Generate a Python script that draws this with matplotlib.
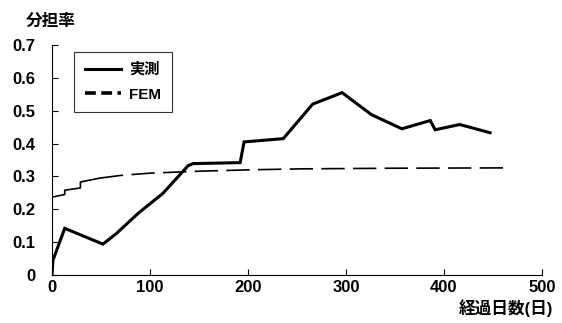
import matplotlib
matplotlib.use("Agg")
import matplotlib.pyplot as plt
from matplotlib.lines import Line2D

plt.rcParams['font.family'] = ['Liberation Sans', 'Noto Sans CJK JP', 'DejaVu Sans']
plt.rcParams['font.weight'] = 'bold'

meas_days = [0, 1, 13, 52, 66, 88, 113, 139, 144, 192, 196, 236, 266, 296, 326, 357, 386, 391, 416, 447]
meas_vals = [0.0, 0.045, 0.142, 0.094, 0.127, 0.188, 0.248, 0.333, 0.339, 0.342, 0.405, 0.415, 0.52, 0.555, 0.488, 0.445, 0.47, 0.442, 0.458, 0.433]

fem_days = [0, 13, 13, 29, 29, 49, 70, 100, 151, 200, 253, 350, 462]
fem_vals = [0.237, 0.245, 0.258, 0.265, 0.283, 0.295, 0.303, 0.31, 0.316, 0.32, 0.323, 0.325, 0.326]

xticks = [0, 100, 200, 300, 400, 500]
yticks = [0, 0.1, 0.2, 0.3, 0.4, 0.5, 0.6, 0.7]
ytick_labels = ['0', '0.1', '0.2', '0.3', '0.4', '0.5', '0.6', '0.7']

fig = plt.figure(figsize=(5.62, 3.23), dpi=100)
ax = fig.add_axes([0.0925, 0.1486, 0.8719, 0.7121])

ax.plot(meas_days, meas_vals, color='black', lw=2.2, solid_joinstyle='miter')
# early stepped part of FEM curve drawn as a thin continuous line, the rest dashed
ax.plot(fem_days[:6], fem_vals[:6], color='black', lw=1.2)
ax.plot(fem_days[5:], fem_vals[5:], color='black', lw=1.2, ls=(0, (14, 5)))

ax.set_xlim(0, 500)
ax.set_ylim(0, 0.7)
ax.set_xticks(xticks)
ax.set_yticks(yticks)
ax.set_yticklabels(ytick_labels)
ax.spines['top'].set_visible(False)
ax.spines['right'].set_visible(False)
ax.tick_params(direction='in', length=4, labelsize=12, width=0.8)
ax.tick_params(axis='y', pad=12)
for lab in ax.get_xticklabels() + ax.get_yticklabels():
    lab.set_fontweight('bold')

handles = [Line2D([], [], color='black', lw=2.2),
           Line2D([], [], color='black', lw=2.6, ls=(0, (3, 1.5)))]
leg = ax.legend(handles, ['実測', 'FEM'], loc='upper left', bbox_to_anchor=(0.045, 0.97),
                borderaxespad=0, frameon=True, fancybox=False,
                edgecolor='black', fontsize=11, handlelength=2.4, handletextpad=0.5,
                borderpad=0.7, labelspacing=0.7)
leg.get_frame().set_linewidth(0.8)
for t in leg.get_texts():
    t.set_fontweight('bold')

fig.text(0.045, 0.935, '分担率', fontsize=12, fontweight='bold', ha='left', va='center')
fig.text(0.985, 0.045, '経過日数(日)', fontsize=12, fontweight='bold', ha='right', va='center')

fig.savefig('out.png', dpi=100)
